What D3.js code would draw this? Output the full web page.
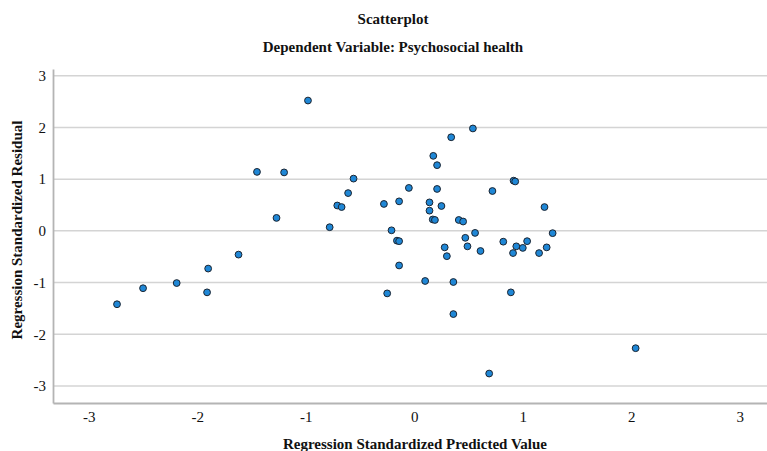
<!DOCTYPE html>
<html>
<head>
<meta charset="utf-8">
<script src="https://cdn.jsdelivr.net/npm/d3@7"></script>
<style>
  body { margin: 0; background: #fff; }
  svg { display: block; font-family: "Liberation Serif", "Times New Roman", serif; }
  .grid line { stroke: #d4d4d4; stroke-width: 1.5; }
  .tick text { font-family: "Liberation Serif", "Times New Roman", serif; font-size: 15px; fill: #111; }
  .title { font-size: 15px; font-weight: bold; fill: #111; }
</style>
</head>
<body>
<svg width="767" height="451"></svg>
<script>
// standardized predicted values (x) and standardized residuals (y)
const predicted = [
  -2.74, -2.50, -2.19, -1.91, -1.90, -1.62, -1.45, -1.20, -1.27, -0.78,
  -0.71, -0.67, -0.98, 0.54, 0.34, 0.175, 0.21, -0.56, -0.61, -0.28,
  -0.14, -0.05, 0.21, 0.14, 0.14, 0.25, 0.17, 0.19, -0.21, -0.16,
  -0.14, 0.28, 0.30, -0.14, 0.10, -0.25, 0.915, 0.93, 0.72, 1.20,
  0.41, 0.45, 0.56, 0.47, 0.49, 0.61, 0.82, 0.91, 0.94, 1.00,
  1.04, 1.15, 1.22, 1.275, 0.36, 0.89, 0.36, 0.69, 2.04
];
const residual = [
  -1.42, -1.11, -1.01, -1.19, -0.73, -0.46, 1.14, 1.13, 0.25, 0.07,
  0.49, 0.46, 2.52, 1.98, 1.81, 1.45, 1.27, 1.01, 0.73, 0.52,
  0.57, 0.83, 0.81, 0.55, 0.39, 0.48, 0.22, 0.21, 0.01, -0.19,
  -0.20, -0.32, -0.49, -0.67, -0.97, -1.21, 0.97, 0.955, 0.77, 0.46,
  0.21, 0.18, -0.04, -0.135, -0.30, -0.39, -0.21, -0.43, -0.30, -0.33,
  -0.20, -0.43, -0.32, -0.045, -0.99, -1.19, -1.61, -2.76, -2.27
];
const xTicks = [-3, -2, -1, 0, 1, 2, 3];
const yTicks = [-3, -2, -1, 0, 1, 2, 3];

const data = predicted.map((p, i) => ({ x: p, y: residual[i] }));

const svg = d3.select("svg");
const plotLeft = 53, plotTop = 69, plotBottom = 403;

const x = d3.scaleLinear().domain([-3.33, 3.33]).range([plotLeft, plotLeft + 6.66 * 108.5]);
const y = d3.scaleLinear().domain([-3.33, 3.13]).range([plotBottom, plotTop]);

// horizontal gridlines
svg.append("g")
  .attr("class", "grid")
  .selectAll("line")
  .data(yTicks)
  .enter().append("line")
  .attr("x1", plotLeft)
  .attr("x2", 767)
  .attr("y1", d => y(d))
  .attr("y2", d => y(d));

// axes (plain hyphen minus like the original)
const yAxis = svg.append("g")
  .attr("transform", `translate(${plotLeft},0)`)
  .call(d3.axisLeft(y).tickValues(yTicks).tickSize(0).tickPadding(7).tickFormat(d => String(d)));
yAxis.attr("font-family", null).attr("font-size", null);
yAxis.select(".domain").attr("stroke", "#b4b4b4").attr("stroke-width", 1.8);

const xAxis = svg.append("g")
  .attr("transform", `translate(0,${plotBottom})`)
  .call(d3.axisBottom(x).tickValues(xTicks).tickSize(0).tickPadding(8).tickFormat(d => String(d)));
xAxis.attr("font-family", null).attr("font-size", null);
xAxis.select(".domain").attr("stroke", "#b4b4b4").attr("stroke-width", 1.8);

// points
svg.append("g")
  .selectAll("circle")
  .data(data)
  .enter().append("circle")
  .attr("cx", d => x(d.x))
  .attr("cy", d => y(d.y))
  .attr("r", 3.4)
  .attr("fill", "#1f87d6")
  .attr("stroke", "#1b2430")
  .attr("stroke-width", 1);

// titles
svg.append("text")
  .attr("class", "title")
  .attr("x", 393).attr("y", 24)
  .attr("text-anchor", "middle")
  .text("Scatterplot");

svg.append("text")
  .attr("class", "title")
  .attr("x", 393).attr("y", 52)
  .attr("text-anchor", "middle")
  .text("Dependent Variable: Psychosocial health");

svg.append("text")
  .attr("class", "title")
  .attr("x", 415).attr("y", 449)
  .attr("text-anchor", "middle")
  .text("Regression Standardized Predicted Value");

svg.append("text")
  .attr("class", "title")
  .attr("transform", "rotate(-90)")
  .attr("x", -230).attr("y", 22)
  .attr("text-anchor", "middle")
  .text("Regression Standardized Residual");
</script>
</body>
</html>
